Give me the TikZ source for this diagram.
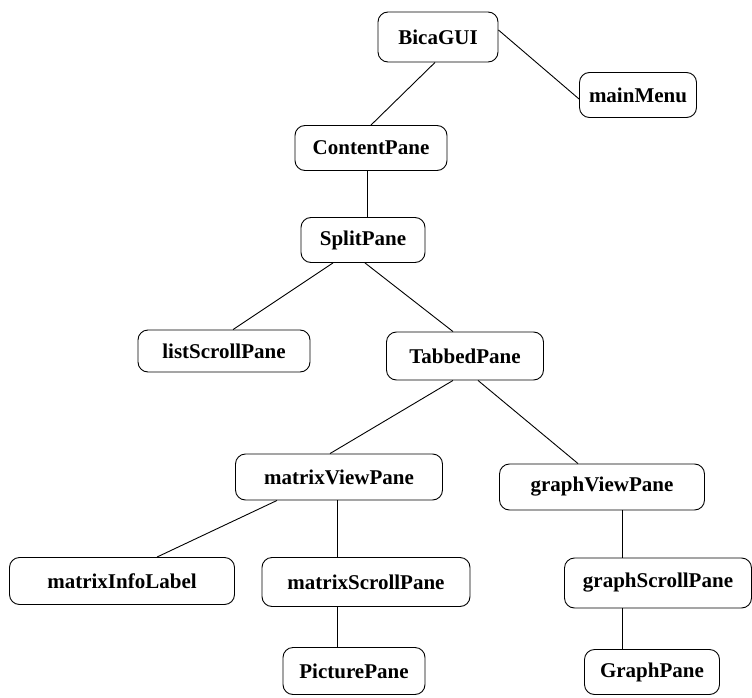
\documentclass[tikz,border=0pt]{standalone}
\usepackage{fontspec}
\setmainfont{Liberation Serif}
\begin{document}
\begin{tikzpicture}[x=1pt,y=-1pt,
  box/.style={draw, rounded corners=10pt, line width=0.9pt, inner sep=0pt, font=\fontsize{21}{24}\selectfont\bfseries},
  conn/.style={line width=0.9pt}]
\useasboundingbox (0,0) rectangle (752,698);
\node[box, minimum width=120, minimum height=50] (bica) at (438,37) {BicaGUI};
\node[box, minimum width=117, minimum height=45] (menu) at (638,95) {mainMenu};
\node[box, minimum width=152, minimum height=45] (content) at (371,148) {ContentPane};
\node[box, minimum width=124, minimum height=45] (split) at (363,240) {SplitPane};
\node[box, minimum width=172, minimum height=42] (list) at (224,351) {listScrollPane};
\node[box, minimum width=157, minimum height=48] (tabbed) at (465,356) {TabbedPane};
\node[box, minimum width=207, minimum height=46] (mview) at (339,477) {matrixViewPane};
\node[box, minimum width=205, minimum height=46] (gview) at (602,487) {graphViewPane};
\node[box, minimum width=225, minimum height=47] (minfo) at (122,581) {matrixInfoLabel};
\node[box, minimum width=208, minimum height=49] (mscroll) at (366,582) {matrixScrollPane};
\node[box, minimum width=187, minimum height=50] (gscroll) at (658,583) {graphScrollPane};
\node[box, minimum width=142, minimum height=47] (pic) at (354,671) {PicturePane};
\node[box, minimum width=135, minimum height=45] (gpane) at (652,672) {GraphPane};
\draw[conn] ([xshift=-3]bica.south) -- (content.north);
\draw[conn] ([yshift=7]bica.east) -- ([yshift=-4]menu.west);
\draw[conn] ([xshift=-4]content.south) -- ([xshift=4]split.north);
\draw[conn] ([xshift=-30]split.south) -- ([xshift=9]list.north);
\draw[conn] ([xshift=2]split.south) -- ([xshift=-12]tabbed.north);
\draw[conn] ([xshift=-12]tabbed.south) -- ([xshift=-9]mview.north);
\draw[conn] ([xshift=13]tabbed.south) -- ([xshift=-24]gview.north);
\draw[conn] ([xshift=-62]mview.south) -- ([xshift=35]minfo.north);
\draw[conn] ([xshift=-2]mview.south) -- ([xshift=-29]mscroll.north);
\draw[conn] ([xshift=-29]mscroll.south) -- ([xshift=-17]pic.north);
\draw[conn] ([xshift=20]gview.south) -- ([xshift=-36]gscroll.north);
\draw[conn] ([xshift=-36]gscroll.south) -- ([xshift=-30]gpane.north);
\end{tikzpicture}
\end{document}
